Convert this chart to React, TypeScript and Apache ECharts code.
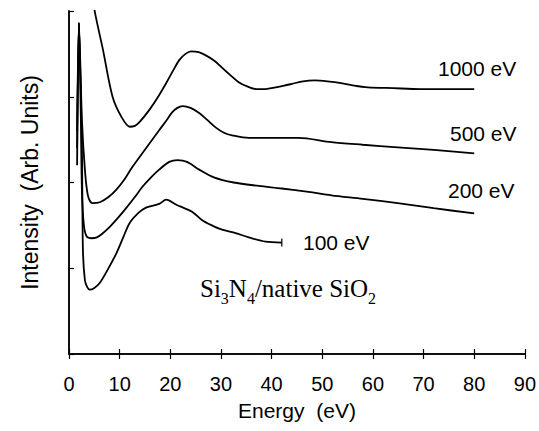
import React, { useEffect, useRef } from "react";
import * as echarts from "echarts";

const xTicks = [0, 10, 20, 30, 40, 50, 60, 70, 80, 90];

const e1000X = [4.3, 5.1, 6.7, 8.6, 10.4, 12.0, 13.0, 14.0, 15.9, 17.6, 19.2, 20.6, 21.8, 23.0, 24.1, 25.6, 27.1, 28.7, 30.2, 31.9, 33.5, 35.2, 36.9, 38.8, 40.8, 42.5, 44.0, 46.2, 48.5, 51.0, 53.7, 56.3, 59.0, 64.0, 69.4, 75.0, 80];
const e1000Y = [4.3, 3.99, 3.55, 3.0, 2.76, 2.65, 2.66, 2.71, 2.85, 3.0, 3.16, 3.31, 3.43, 3.5, 3.53, 3.52, 3.48, 3.42, 3.34, 3.25, 3.17, 3.12, 3.09, 3.09, 3.11, 3.13, 3.15, 3.18, 3.19, 3.18, 3.16, 3.13, 3.11, 3.1, 3.09, 3.09, 3.09];

const e500X = [1.6, 1.96, 2.55, 3.14, 3.73, 4.6, 6.1, 7.8, 9.4, 11.0, 12.5, 15.2, 17.8, 19.2, 20.4, 21.4, 22.4, 24.0, 25.7, 27.3, 29.0, 30.6, 32.2, 35.5, 40.0, 45.3, 51.8, 58.0, 64.9, 72.0, 80];
const e500Y = [2.6, 3.86, 2.73, 2.15, 1.85, 1.76, 1.77, 1.83, 1.92, 2.04, 2.18, 2.4, 2.61, 2.72, 2.82, 2.87, 2.89, 2.87, 2.81, 2.73, 2.64, 2.58, 2.55, 2.52, 2.52, 2.52, 2.47, 2.44, 2.41, 2.38, 2.34];

const e200X = [1.6, 1.96, 2.35, 2.55, 2.94, 3.5, 4.5, 5.5, 6.5, 8.0, 9.7, 11.4, 13.0, 14.5, 16.2, 17.8, 19.8, 21.4, 23.3, 25.7, 28.6, 32.5, 37.5, 42.0, 47.3, 51.8, 58.0, 64.9, 72.0, 80];
const e200Y = [2.4, 3.86, 2.73, 1.91, 1.5, 1.37, 1.35, 1.36, 1.4, 1.48, 1.59, 1.71, 1.83, 1.95, 2.06, 2.15, 2.24, 2.26, 2.24, 2.15, 2.06, 2.0, 1.96, 1.93, 1.89, 1.85, 1.81, 1.76, 1.7, 1.64];

const e100X = [1.6, 1.96, 2.55, 2.75, 3.14, 3.6, 4.1, 5.0, 6.1, 7.7, 9.4, 10.7, 12.0, 13.6, 15.3, 17.8, 19.2, 21.2, 22.4, 24.3, 26.3, 28.2, 30.2, 32.9, 35.5, 38.8, 42.0];
const e100Y = [2.2, 3.86, 2.38, 1.21, 0.86, 0.78, 0.75, 0.77, 0.83, 0.99, 1.18, 1.36, 1.53, 1.64, 1.71, 1.75, 1.8, 1.74, 1.71, 1.66, 1.56, 1.5, 1.45, 1.41, 1.36, 1.31, 1.3];

const seriesNames = ["1000 eV", "500 eV", "200 eV", "100 eV"];

const zip = (xs: number[], ys: number[]) => xs.map((x, i) => [x, ys[i]]);

const SANS = "'Liberation Sans', Arial, sans-serif";
const SERIF = "'Liberation Serif', 'Times New Roman', serif";

export default function App() {
  const ref = useRef<HTMLDivElement>(null);
  useEffect(() => {
    if (!ref.current) return;
    const chart = echarts.init(ref.current, undefined, { renderer: "svg" });
    const lineStyle = { color: "#000", width: 1.8 };
    const mk = (name: string, data: number[][]) => ({
      type: "line",
      name,
      data,
      symbol: "none",
      smooth: 0.3,
      lineStyle,
      clip: true,
    });
    const labelText = (text: string, x: number, y: number) => ({
      type: "text",
      x,
      y,
      style: {
        text,
        font: `21px ${SANS}`,
        fill: "#000",
        textAlign: "left",
        align: "left",
        textVerticalAlign: "middle",
        verticalAlign: "middle",
      },
    });
    chart.setOption({
      animation: false,
      backgroundColor: "#fff",
      grid: { left: 69, top: 11, right: 11, bottom: 77 },
      xAxis: [
        {
          type: "value",
          min: 0,
          max: 90,
          interval: 10,
          position: "bottom",
          name: "Energy  (eV)",
          nameLocation: "middle",
          nameGap: 46,
          nameTextStyle: { fontFamily: SANS, fontSize: 21, color: "#000" },
          axisLine: { lineStyle: { color: "#000", width: 1.5 } },
          axisTick: { inside: true, length: 5, lineStyle: { color: "#000", width: 1.2 } },
          axisLabel: {
            margin: 20,
            fontFamily: SANS,
            fontSize: 20,
            color: "#000",
            formatter: (v: number) => (xTicks.includes(v) ? String(v) : ""),
          },
          splitLine: { show: false },
        },
        {
          type: "value",
          min: 0,
          max: 90,
          interval: 10,
          position: "top",
          axisLine: { lineStyle: { color: "#000", width: 1.5 } },
          axisTick: { inside: true, length: 5, lineStyle: { color: "#000", width: 1.2 } },
          axisLabel: { show: false },
          splitLine: { show: false },
        },
      ],
      yAxis: [
        {
          type: "value",
          min: 0,
          max: 4,
          interval: 1,
          position: "left",
          name: "Intensity  (Arb. Units)",
          nameLocation: "middle",
          nameGap: 28,
          nameTextStyle: { fontFamily: SANS, fontSize: 23, color: "#000" },
          axisLine: { show: true, lineStyle: { color: "#000", width: 1.5 } },
          axisTick: { show: true, inside: true, length: 5, lineStyle: { color: "#000", width: 1.2 } },
          axisLabel: { show: false },
          splitLine: { show: false },
        },
        {
          type: "value",
          min: 0,
          max: 4,
          interval: 1,
          position: "right",
          axisLine: { show: true, lineStyle: { color: "#000", width: 1.5 } },
          axisTick: { show: false },
          axisLabel: { show: false },
          splitLine: { show: false },
        },
      ],
      series: [
        mk(seriesNames[0], zip(e1000X, e1000Y)),
        mk(seriesNames[1], zip(e500X, e500Y)),
        mk(seriesNames[2], zip(e200X, e200Y)),
        mk(seriesNames[3], zip(e100X, e100Y)),
        {
          type: "scatter",
          data: [[e100X[e100X.length - 1], e100Y[e100Y.length - 1]]],
          symbol: "rect",
          symbolSize: [1.6, 8],
          itemStyle: { color: "#000" },
        },
      ],
      graphic: [
        labelText(seriesNames[0], 438, 68),
        labelText(seriesNames[1], 450, 133),
        labelText(seriesNames[2], 448, 190),
        labelText(seriesNames[3], 303, 242),
        {
          type: "text",
          x: 200,
          y: 276,
          style: {
            text: "{m|Si}{s|3}{m|N}{s|4}{m|/native SiO}{s|2}",
            fill: "#000",
            rich: {
              m: { fontFamily: SERIF, fontSize: 25, lineHeight: 27, verticalAlign: "top", fill: "#000" },
              s: { fontFamily: SERIF, fontSize: 16, lineHeight: 16, padding: [14, 0, 0, 0], verticalAlign: "top", fill: "#000" },
            },
          },
        },
      ],
    });
    return () => chart.dispose();
  }, []);
  return (
    <div
      ref={ref}
      style={{ position: "fixed", left: 0, top: 0, width: 539, height: 431, background: "#fff" }}
    />
  );
}
